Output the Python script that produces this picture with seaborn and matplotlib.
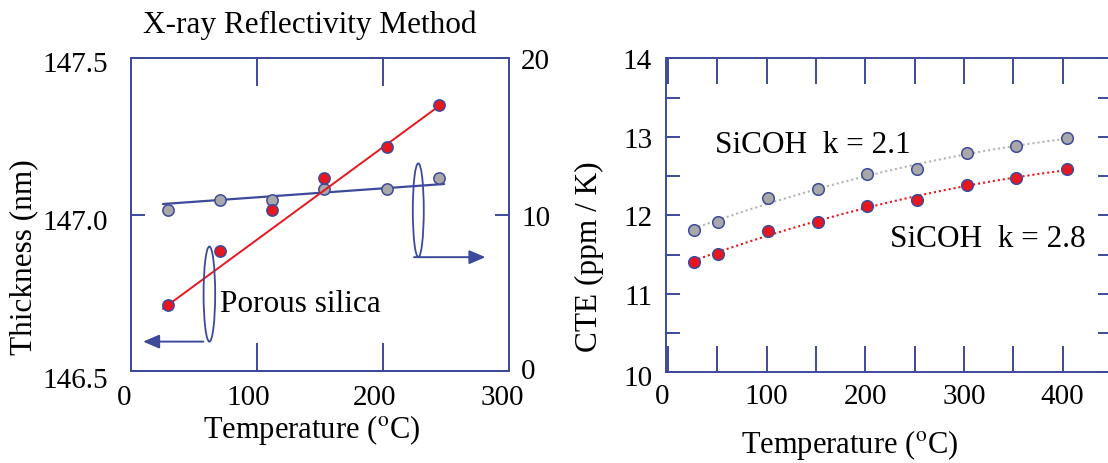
import numpy as np
import matplotlib
matplotlib.use("Agg")
import matplotlib.pyplot as plt
import matplotlib.transforms as mtransforms
from matplotlib.patches import Ellipse
from matplotlib.ticker import FixedLocator, MultipleLocator
import seaborn as sns

# ---- X-ray reflectivity: porous silica film ----
xrr_temp = [29.7, 71.0, 112.3, 153.9, 203.2, 244.8]
xrr_thickness = [146.712, 146.883, 147.014, 147.116, 147.217, 147.352]   # left axis (nm)
xrr_secondary = [10.30, 10.96, 10.96, 11.64, 11.64, 12.33]              # right axis
# straight trend lines (end points)
thick_fit_temp = [25.7, 248.8]
thick_fit_vals = [146.699, 147.359]
second_fit_temp = [25.7, 248.8]
second_fit_vals = [10.68, 11.96]

# ---- CTE of SiCOH films ----
cte_temp = [26, 51, 101, 152, 202, 252, 303, 353, 404]
cte_k21 = [11.81, 11.92, 12.22, 12.33, 12.52, 12.59, 12.79, 12.88, 12.99]
cte_k28 = [11.41, 11.51, 11.80, 11.92, 12.12, 12.195, 12.39, 12.47, 12.59]

# tick values and labels
left_xticks = [0, 100, 200, 300]
left_xticklabels = ["0", "100", "200", "300"]
left_yticks = [146.5, 147.0, 147.5]
left_yticklabels = ["146.5", "147.0", "147.5"]
sec_yticks = [0, 10, 20]
sec_yticklabels = ["0", "10", "20"]
right_xticks = [0, 100, 200, 300, 400]
right_xticklabels = ["0", "100", "200", "300", "400"]
right_yticks = [10, 11, 12, 13, 14]
right_yticklabels = ["10", "11", "12", "13", "14"]

NAVY = "#3d4a9b"
RED = "#e8161e"
GRAY = "#a8a8a8"
DOT_GRAY = "#b4b4b4"

sns.set_theme(style="white")
plt.rcParams["font.family"] = ["Liberation Serif", "DejaVu Serif"]
plt.rcParams["mathtext.fontset"] = "stix"

TICK_FS = 21
XLABEL_FS = 22
YLABEL_FS = 22.5
NOTE_FS = 22.5

fig = plt.figure(figsize=(11.08, 4.64), dpi=100)
W, H = 1108.0, 464.0


def shift(label, dx_px=0.0, dy_px=0.0):
    off = mtransforms.ScaledTranslation(dx_px / 100.0, dy_px / 100.0, fig.dpi_scale_trans)
    label.set_transform(label.get_transform() + off)


def style_spines(a):
    for sp in a.spines.values():
        sp.set_color(NAVY)
        sp.set_linewidth(1.4)
        sp.set_visible(True)


# ================= left panel =================
ax = fig.add_axes([130.5 / W, (H - 372) / H, 378 / W, 312.7 / H])
ax2 = ax.twinx()
ax.set_xlim(0, 300)
ax.set_ylim(146.5, 147.5)
ax2.set_ylim(0, 20)

sns.lineplot(x=second_fit_temp, y=second_fit_vals, ax=ax2, color=NAVY, linewidth=1.6)
sns.scatterplot(x=xrr_temp, y=xrr_secondary, ax=ax2, color=GRAY, edgecolor=NAVY,
                s=66, linewidth=1.1, zorder=3)
sns.lineplot(x=thick_fit_temp, y=thick_fit_vals, ax=ax, color=RED, linewidth=1.4)
sns.scatterplot(x=xrr_temp, y=xrr_thickness, ax=ax, color=RED, edgecolor=NAVY,
                s=66, linewidth=1.1, zorder=3)
ax.set_zorder(ax2.get_zorder() + 1)
ax.patch.set_visible(False)

ax.set_xticks(left_xticks)
ax.set_xticklabels(left_xticklabels)
ax.set_yticks(left_yticks)
ax.set_yticklabels(left_yticklabels)
ax2.set_yticks(sec_yticks)
ax2.set_yticklabels(sec_yticklabels)

ax.tick_params(axis="x", direction="in", length=20, width=1.4, color=NAVY,
               top=True, bottom=True, labelsize=TICK_FS, pad=9.5, labelcolor="black")
ax.tick_params(axis="y", direction="in", length=10, width=1.4, color=NAVY,
               left=True, right=False, labelsize=TICK_FS, pad=16, labelcolor="black")
ax2.tick_params(axis="y", direction="in", length=10, width=1.4, color=NAVY,
                left=False, right=True, labelsize=TICK_FS, pad=9, labelcolor="black")
style_spines(ax)
style_spines(ax2)

for lab, dx in zip(ax.get_xticklabels(), [-6, -8, -8, -6]):
    shift(lab, dx_px=dx)
for lab, dy in zip(ax.get_yticklabels(), [-6, -4, -3]):
    shift(lab, dy_px=dy)
shift(ax2.get_yticklabels()[0], dy_px=3)

ax.set_xlabel("Temperature ($^{\\rm o}$C)", fontsize=XLABEL_FS, color="black")
ax.xaxis.set_label_coords((311.7 - 130.5) / 378, (372 - 413) / 312.7)
ax.set_ylabel("Thickness (nm)", fontsize=YLABEL_FS, color="black")
ax.yaxis.set_label_coords((38 - 130.5) / 378, (372 - 257) / 312.7)
ax2.set_ylabel("")

fig.text(309.7 / W, (H - 33.3) / H, "X-ray Reflectivity Method", ha="center",
         va="baseline", fontsize=NOTE_FS, color="black")

# ovals and arrows that tie each data set to its axis
ax.add_patch(Ellipse((62.6, 146.746), width=9.2, height=0.304, fill=False,
                     edgecolor=NAVY, linewidth=1.3, zorder=4))
ax.add_patch(Ellipse((228.4, 147.014), width=8.7, height=0.30, fill=False,
                     edgecolor=NAVY, linewidth=1.3, zorder=4))
arrow_style = dict(arrowstyle="-|>,head_length=0.7,head_width=0.3", color=NAVY,
                   lw=1.4, shrinkA=0, shrinkB=0, mutation_scale=14)
ax.annotate("", xy=(10, 146.594), xytext=(57.8, 146.594), arrowprops=arrow_style)
ax.annotate("", xy=(281.7, 146.864), xytext=(225.0, 146.864), arrowprops=arrow_style)

fig.text(220 / W, (H - 311.7) / H, "Porous silica", ha="left", va="baseline",
         fontsize=NOTE_FS, color="black")

# ================= right panel =================
bx = fig.add_axes([666 / W, (H - 373.3) / H, 446 / W, 314 / H])
bx.set_xlim(-2, 450)
bx.set_ylim(10, 14)

xs = np.linspace(min(cte_temp), max(cte_temp), 200)
fit21 = np.polyval(np.polyfit(cte_temp, cte_k21, 2), xs)
fit28 = np.polyval(np.polyfit(cte_temp, cte_k28, 2), xs)
sns.lineplot(x=xs, y=fit21, ax=bx, color=DOT_GRAY, linewidth=1.5, linestyle=(0, (1, 1.4)))
sns.lineplot(x=xs, y=fit28, ax=bx, color=RED, linewidth=1.5, linestyle=(0, (1, 1.4)))
sns.scatterplot(x=cte_temp, y=cte_k21, ax=bx, color=GRAY, edgecolor=NAVY,
                s=70, linewidth=1.1, zorder=3)
sns.scatterplot(x=cte_temp, y=cte_k28, ax=bx, color=RED, edgecolor=NAVY,
                s=70, linewidth=1.1, zorder=3)

bx.xaxis.set_major_locator(FixedLocator(right_xticks))
bx.set_xticklabels(right_xticklabels)
bx.xaxis.set_minor_locator(MultipleLocator(50))
bx.yaxis.set_major_locator(FixedLocator(right_yticks))
bx.set_yticklabels(right_yticklabels)
bx.yaxis.set_minor_locator(MultipleLocator(0.5))
bx.tick_params(axis="x", which="both", direction="in", length=19, width=1.4, color=NAVY,
               top=True, bottom=True, labelsize=TICK_FS, pad=8, labelcolor="black")
bx.tick_params(axis="y", which="both", direction="in", length=10, width=1.4, color=NAVY,
               left=True, right=True, labelsize=TICK_FS, pad=10, labelcolor="black")
style_spines(bx)

shift(bx.get_xticklabels()[0], dx_px=-6)
shift(bx.get_yticklabels()[0], dy_px=-3)

bx.set_xlabel("Temperature ($^{\\rm o}$C)", fontsize=XLABEL_FS, color="black")
bx.xaxis.set_label_coords((850 - 666) / 446, (373.3 - 428) / 314)
bx.set_ylabel("CTE (ppm / K)", fontsize=YLABEL_FS, color="black")
bx.yaxis.set_label_coords((604 - 666) / 446, (373.3 - 257) / 314)

fig.text(715 / W, (H - 152.7) / H, "SiCOH  k = 2.1", ha="left", va="baseline",
         fontsize=NOTE_FS, color="black")
fig.text(890 / W, (H - 247.3) / H, "SiCOH  k = 2.8", ha="left", va="baseline",
         fontsize=NOTE_FS, color="black")

fig.savefig("out.png", dpi=100)
